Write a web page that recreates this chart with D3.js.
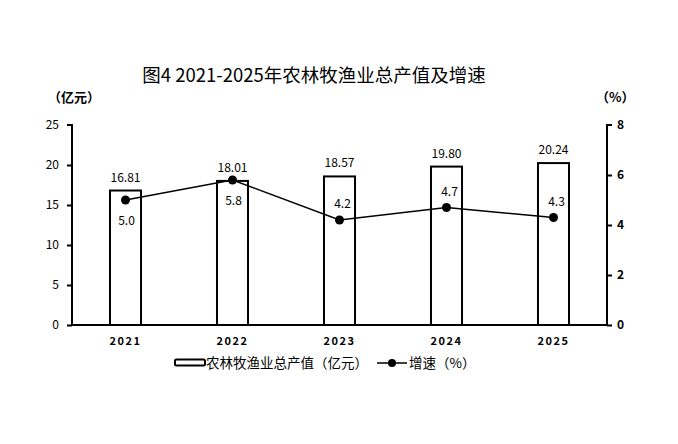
<!DOCTYPE html>
<html><head><meta charset="utf-8">
<script src="https://cdn.jsdelivr.net/npm/d3@7/dist/d3.min.js"></script>
<style>body{margin:0;background:#fff}svg{display:block}</style>
</head><body>
<svg id="c" width="678" height="444"></svg>
<script>
const years = ["2021","2022","2023","2024","2025"];
const output = [16.81, 18.01, 18.57, 19.80, 20.24];
const growth = [5.0, 5.8, 4.2, 4.7, 4.3];
const leftTicks = [0,5,10,15,20,25];
const rightTicks = [0,2,4,6,8];
const growthLabelPos = ["below","below","above","above","above"];

const svg = d3.select("#c");
const font = "'Noto Sans CJK SC', 'DejaVu Sans', sans-serif";
const L = 72, R = 607, T = 125, B = 325;

const x = d3.scaleBand().domain(years).range([L, R]).paddingInner(0.71).paddingOuter(0.355);
const yL = d3.scaleLinear().domain([0,25]).range([B, T]);
const yR = d3.scaleLinear().domain([0,8]).range([B, T]);

svg.append("text").attr("x", 314).attr("y", 82).attr("text-anchor","middle")
  .attr("font-family", font).attr("font-size", 18.5).attr("fill","#000")
  .text("图4 2021-2025年农林牧渔业总产值及增速");

svg.append("text").attr("x", 48).attr("y", 102).attr("font-family", font)
  .attr("font-size", 13).attr("font-weight","bold").text("（亿元）");
svg.append("text").attr("x", 596).attr("y", 102).attr("font-family", font)
  .attr("font-size", 13).attr("font-weight","bold").text("（%）");

// bars
svg.append("g").selectAll("rect").data(output).join("rect")
  .attr("x", (d,i) => x(years[i])).attr("width", x.bandwidth())
  .attr("y", d => yL(d)).attr("height", d => B - yL(d))
  .attr("fill","#fff").attr("stroke","#000").attr("stroke-width",2);

// axes
const gl = svg.append("g").attr("transform", `translate(${L},0)`)
  .call(d3.axisLeft(yL).tickValues(leftTicks).tickSize(5).tickPadding(8).tickFormat(d3.format("d")));
const gr = svg.append("g").attr("transform", `translate(${R},0)`)
  .call(d3.axisRight(yR).tickValues(rightTicks).tickSize(5).tickPadding(5).tickFormat(d3.format("d")));
[gl, gr].forEach(g => {
  g.select(".domain").attr("stroke-width",2).attr("d", null);
  g.selectAll(".tick line").attr("stroke-width",2);
  g.selectAll(".tick text").attr("font-family", font).attr("font-size",12).attr("fill","#000");
});
gl.select(".domain").attr("d", `M-5,${T}H0V${B}`);
gr.select(".domain").attr("d", `M5,${T}H0V${B}`);
gr.selectAll(".tick text").attr("font-weight","bold");
gl.selectAll(".tick").filter(d => d===25).select("line").remove();
gr.selectAll(".tick").filter(d => d===8).select("line").remove();

const gx = svg.append("g").attr("transform", `translate(0,${B})`)
  .call(d3.axisBottom(x).tickSize(0).tickPadding(12));
gx.select(".domain").attr("stroke-width",2).attr("d", `M${L},0H${R}`);
gx.selectAll(".tick text").attr("font-family", font).attr("font-size",11)
  .attr("font-weight","bold").attr("letter-spacing","1.5px").attr("fill","#000");

// bar labels
svg.append("g").selectAll("text").data(output).join("text")
  .attr("x", (d,i) => x(years[i]) + x.bandwidth()/2).attr("y", d => yL(d) - 9)
  .attr("text-anchor","middle").attr("font-family", font).attr("font-size",12)
  .text(d => d.toFixed(2));

// line
const cx = i => x(years[i]) + x.bandwidth()/2;
svg.append("path").datum(growth)
  .attr("d", d3.line().x((d,i) => cx(i)).y(d => yR(d)))
  .attr("fill","none").attr("stroke","#000").attr("stroke-width",1.5);
svg.append("g").selectAll("circle").data(growth).join("circle")
  .attr("cx",(d,i)=>cx(i)).attr("cy", d=>yR(d)).attr("r",4.5).attr("fill","#000");
svg.append("g").selectAll("text").data(growth).join("text")
  .attr("x",(d,i)=>cx(i) + (growthLabelPos[i]==="above"?3:1))
  .attr("y",(d,i)=> growthLabelPos[i]==="above" ? yR(d)-12 : yR(d)+25)
  .attr("text-anchor","middle").attr("font-family", font).attr("font-size",12)
  .text(d => d.toFixed(1));

// legend
const lg = svg.append("g");
lg.append("rect").attr("x",175).attr("y",359.5).attr("width",30).attr("height",6).attr("rx",1.5)
  .attr("fill","#fff").attr("stroke","#000").attr("stroke-width",2);
lg.append("text").attr("x",206).attr("y",368).attr("font-family", font).attr("font-size",13.5)
  .text("农林牧渔业总产值（亿元）");
lg.append("line").attr("x1",377).attr("x2",407).attr("y1",363).attr("y2",363)
  .attr("stroke","#000").attr("stroke-width",1.5);
lg.append("circle").attr("cx",392).attr("cy",363).attr("r",4).attr("fill","#000");
lg.append("text").attr("x",409).attr("y",368).attr("font-family", font).attr("font-size",13.5)
  .text("增速（%）");
</script>
</body></html>
